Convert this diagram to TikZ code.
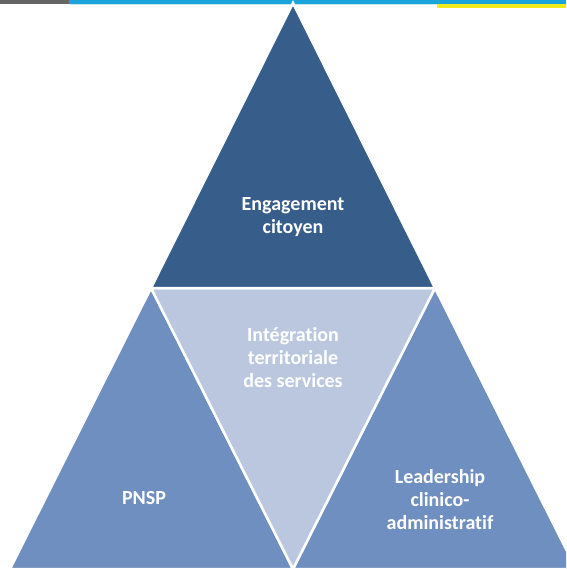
\documentclass[tikz,border=0pt]{standalone}
\usepackage{fontspec}
\setmainfont{Carlito}[Ligatures={NoCommon,NoContextual,NoRare}]
\usepackage{xcolor}
\usetikzlibrary{positioning, calc}

\definecolor{topblue}{RGB}{55,93,138}
\definecolor{sideblue}{RGB}{111,143,192}
\definecolor{midblue}{RGB}{186,199,223}
\definecolor{barblue}{RGB}{27,163,220}
\definecolor{bargray}{RGB}{102,102,102}
\definecolor{baryellow}{RGB}{243,234,29}

\begin{document}
\begin{tikzpicture}[
  x=1pt, y=-1pt,
  facet/.style={draw=white, line width=2.5pt, line join=miter},
  label/.style={text=white, font=\fontsize{20}{23}\selectfont\bfseries, align=center}
]
  % Canvas
  \useasboundingbox (0,0) rectangle (566,569);
  \fill[white] (0,0) rectangle (566,569);

  % Top bars
  \fill[bargray] (0,0) rectangle (69,3.6);
  \fill[barblue] (69,0) rectangle (566,3.6);
  \fill[barblue!25] (69,3.6) rectangle (437,4.6);
  \fill[baryellow] (437,3.6) rectangle (566,8);

  % Corner points
  \coordinate (apex) at (293,3);
  \coordinate (midL) at (151,288);
  \coordinate (midR) at (435,288);
  \coordinate (botL) at (10,569);
  \coordinate (botM) at (293,569);
  \coordinate (botR) at (576,569);

  % Facets
  \begin{scope}
    \clip (0,0) rectangle (566,569);
    \filldraw[facet, fill=sideblue] (midL) -- (botL) -- (botM) -- cycle;
    \filldraw[facet, fill=sideblue] (midR) -- (botM) -- (botR) -- cycle;
    \filldraw[facet, fill=midblue] (midL) -- (midR) -- (botM) -- cycle;
    \filldraw[facet, fill=topblue] (apex) -- (midL) -- (midR) -- cycle;
  \end{scope}

  % Labels
  \node[label] (engagement) at (293,217) {Engagement\\citoyen};
  \node[label] (integration) at (293,358) {Intégration\\territoriale\\des services};
  \node[label] (pnsp) at (144,498) {PNSP};
  \node[label] (leadership) at (440,500) {Leadership\\clinico-\\administratif};

\end{tikzpicture}
\end{document}
